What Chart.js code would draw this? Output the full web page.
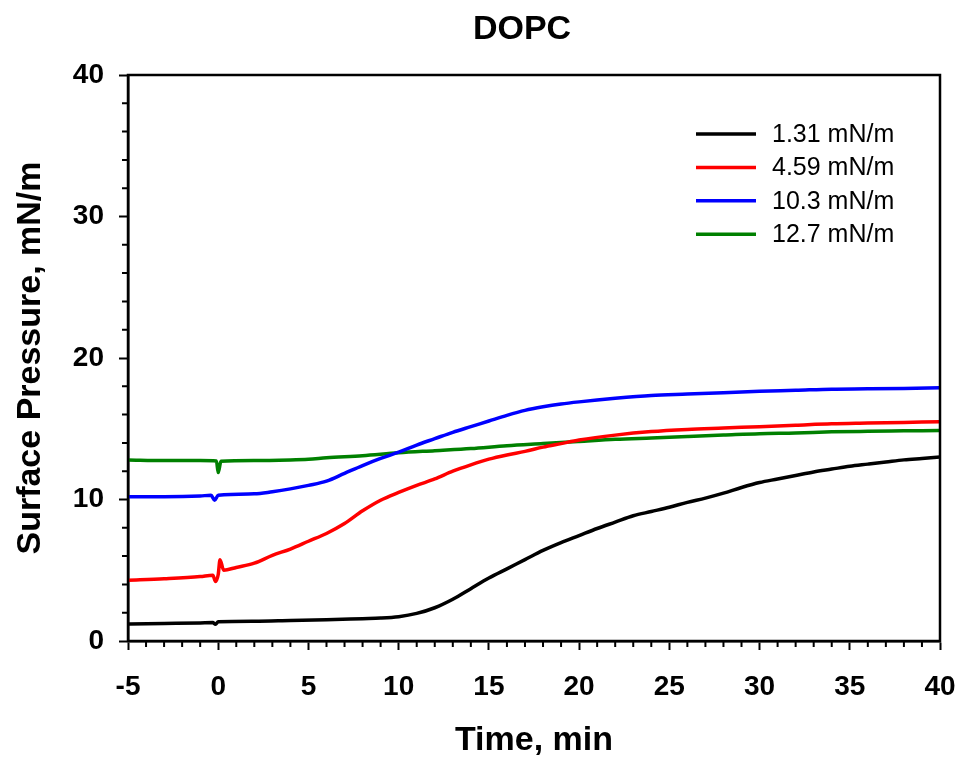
<!DOCTYPE html>
<html>
<head>
<meta charset="utf-8">
<script src="https://cdn.jsdelivr.net/npm/chart.js@4.4.1/dist/chart.umd.min.js"></script>
<style>
  html,body{margin:0;padding:0;background:#fff}
  #wrap{width:960px;height:761px}
</style>
</head>
<body>
<div id="wrap"><canvas id="chart" width="960" height="761"></canvas></div>
<script>
// series: time (min) and surface pressure (mN/m)
const labels = ['1.31 mN/m', '4.59 mN/m', '10.3 mN/m', '12.7 mN/m'];
const colors = ['#000000', '#ff0000', '#0000ff', '#008000'];

const tBlack = [-5,-3,-1,-0.3,-0.15,0,2,4,6,8,9,10,11,12,13,14,15,16,17,18,19,20,21,22,23,24,25,26,27,28,29,30,31,32,33,34,35,36,37,38,39,40];
const pBlack = [1.20,1.24,1.28,1.30,1.18,1.36,1.40,1.45,1.50,1.58,1.62,1.72,1.95,2.35,2.95,3.7,4.45,5.1,5.75,6.4,6.95,7.45,7.95,8.4,8.85,9.15,9.45,9.8,10.1,10.45,10.85,11.2,11.45,11.7,11.95,12.15,12.35,12.5,12.65,12.8,12.9,13.0];

const tRed = [-5,-3,-1,-0.3,-0.15,0,0.1,0.3,1,2,3,4,5,6,7,8,9,10,11,12,13,14,15,16,17,18,19,20,22,24,26,28,30,32,34,36,38,40];
const pRed = [4.30,4.40,4.55,4.65,4.20,4.70,5.75,5.0,5.2,5.5,6.05,6.5,7.05,7.6,8.3,9.2,9.95,10.5,11.0,11.45,12.0,12.45,12.85,13.15,13.4,13.7,13.95,14.2,14.55,14.8,14.95,15.05,15.15,15.25,15.35,15.4,15.45,15.5];

const tBlue = [-5,-3,-1,-0.4,-0.2,0,2,3,4,5,6,7,8,9,10,11,12,13,14,15,16,17,18,19,20,22,24,26,28,30,32,34,36,38,40];
const pBlue = [10.2,10.2,10.25,10.3,9.95,10.3,10.4,10.55,10.75,11.0,11.3,11.85,12.4,12.9,13.35,13.85,14.3,14.75,15.15,15.55,15.95,16.3,16.55,16.75,16.9,17.15,17.35,17.45,17.55,17.65,17.72,17.8,17.82,17.85,17.9];

const tGreen = [-5,-3,-1,-0.1,0,0.15,2,4,5,6,8,10,12,14,16,18,20,22,24,26,28,30,32,34,36,38,40];
const pGreen = [12.8,12.75,12.75,12.72,11.9,12.7,12.75,12.8,12.85,12.95,13.1,13.3,13.45,13.6,13.8,13.95,14.1,14.25,14.35,14.45,14.55,14.65,14.7,14.78,14.82,14.85,14.88];

const seriesT = [tBlack, tRed, tBlue, tGreen];
const seriesP = [pBlack, pRed, pBlue, pGreen];

const FONT = 'Liberation Sans, Arial, sans-serif';
Chart.defaults.font.family = FONT;
Chart.defaults.color = '#000';

const datasets = labels.map((lab, i) => ({
  label: lab,
  data: seriesT[i].map((t, j) => ({x: t, y: seriesP[i][j]})),
  borderColor: colors[i],
  backgroundColor: colors[i],
  borderWidth: 3.5,
  pointRadius: 0,
  fill: false,
  cubicInterpolationMode: 'monotone'
}));

// frame, minor ticks, title and legend
const decor = {
  id: 'decor',
  afterDatasetsDraw(chart){
    const {ctx, chartArea: a, scales: {x, y}} = chart;
    ctx.save();
    ctx.strokeStyle = '#000';
    ctx.lineWidth = 2.5;
    ctx.strokeRect(a.left, a.top, a.right - a.left, a.bottom - a.top);

    ctx.lineWidth = 2;
    ctx.beginPath();
    for(let v = -5; v <= 40; v++){
      if(v % 5 === 0) continue;
      const px = x.getPixelForValue(v);
      ctx.moveTo(px, a.bottom); ctx.lineTo(px, a.bottom + 6);
    }
    for(let v = 0; v <= 40; v += 2){
      if(v % 10 === 0) continue;
      const py = y.getPixelForValue(v);
      ctx.moveTo(a.left, py); ctx.lineTo(a.left - 6, py);
    }
    ctx.stroke();

    ctx.fillStyle = '#000';
    ctx.textAlign = 'center';
    ctx.textBaseline = 'middle';
    ctx.font = 'bold 34px ' + FONT;
    ctx.fillText('DOPC', 522, 30);

    ctx.textAlign = 'left';
    ctx.font = '25px ' + FONT;
    chart.data.datasets.forEach((ds, i) => {
      const yy = 134 + i * 33.4;
      ctx.strokeStyle = ds.borderColor;
      ctx.lineWidth = 3.5;
      ctx.beginPath();
      ctx.moveTo(696, yy); ctx.lineTo(756, yy);
      ctx.stroke();
      ctx.fillText(ds.label, 772, yy + 1);
    });
    ctx.restore();
  }
};

new Chart(document.getElementById('chart'), {
  type: 'line',
  data: {datasets},
  options: {
    responsive: false,
    animation: false,
    devicePixelRatio: 1,
    layout: {padding: {left: 10, top: 75, right: 20, bottom: 0}},
    plugins: {legend: {display: false}, title: {display: false}, tooltip: {enabled: false}},
    scales: {
      x: {
        type: 'linear', min: -5, max: 40,
        ticks: {stepSize: 5, maxRotation: 0, autoSkip: false, padding: 20,
                font: {size: 28, weight: 'bold'}, color: '#000'},
        grid: {drawOnChartArea: false, drawTicks: true, tickLength: 9, tickWidth: 2, tickColor: '#000'},
        border: {display: true, color: '#000', width: 2.5},
        title: {display: true, text: 'Time, min', font: {size: 34, weight: 'bold'}, color: '#000', padding: 0},
        afterFit: s => { s.height = 120; s.paddingLeft = 0; s.paddingRight = 0; }
      },
      y: {
        min: 0, max: 40,
        ticks: {stepSize: 10, padding: 15, font: {size: 28, weight: 'bold'}, color: '#000'},
        grid: {drawOnChartArea: false, drawTicks: true, tickLength: 9, tickWidth: 2, tickColor: '#000'},
        border: {display: true, color: '#000', width: 2.5},
        title: {display: true, text: 'Surface Pressure, mN/m', font: {size: 34, weight: 'bold'}, color: '#000', padding: 0},
        afterFit: s => { s.width = 118; }
      }
    }
  },
  plugins: [decor]
});
</script>
</body>
</html>
